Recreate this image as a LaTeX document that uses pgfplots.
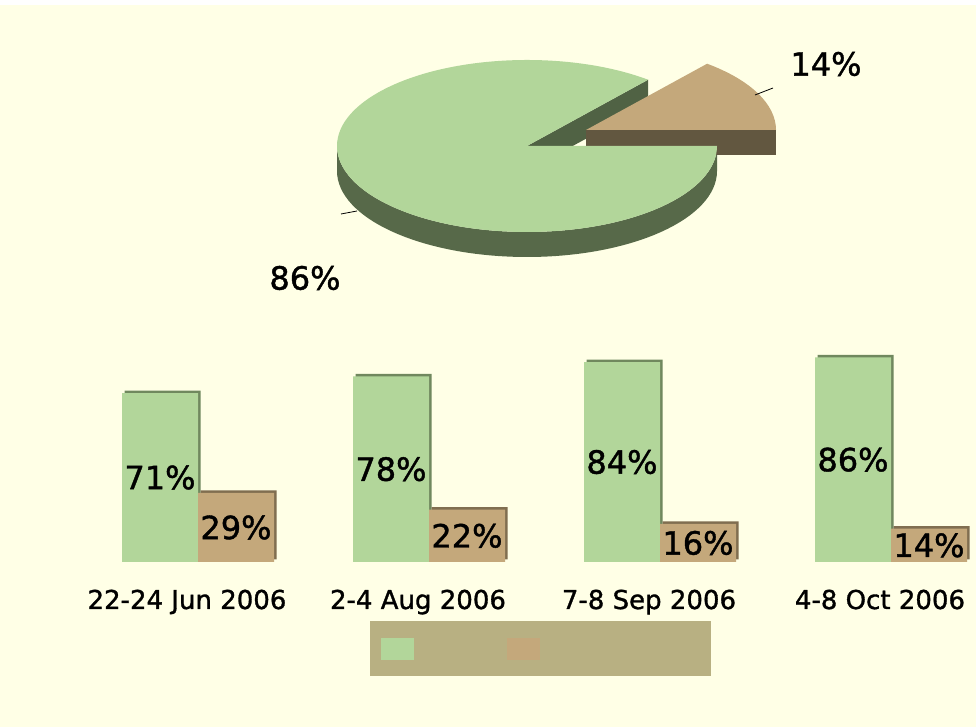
\documentclass[border=0pt]{standalone}
\usepackage{pgfplots}
\pgfplotsset{compat=1.18}
\usepackage{fontspec}
\setmainfont{DejaVu Sans}
\newfontfamily\lab[FakeBold=1.2]{DejaVu Sans}
\definecolor{bg}{RGB}{255,255,230}
\definecolor{gtop}{RGB}{178,214,154}
\definecolor{gside}{RGB}{87,105,73}
\definecolor{gcut}{RGB}{80,98,68}
\definecolor{ttop}{RGB}{196,168,123}
\definecolor{tside}{RGB}{98,87,64}
\definecolor{legbg}{RGB}{184,176,130}
\definecolor{gedge}{RGB}{112,136,94}
\definecolor{tedge}{RGB}{128,110,80}
\newcommand{\bigf}{\lab\fontsize{32}{38}\selectfont}
\begin{document}
\begin{tikzpicture}[x=1pt,y=1pt]
\fill[white] (0,0) rectangle (976,727);
\fill[bg] (0,0) rectangle (976,722);
\useasboundingbox (0,0) rectangle (976,727);
% ---------- pie (values 86 / 14) ----------
\pgfmathsetmacro{\tanang}{14*3.6}
\begin{axis}[at={(0pt,0pt)}, anchor=south west, scale only axis,
  width=976pt, height=727pt, xmin=0, xmax=976, ymin=0, ymax=727, hide axis]
  % green outer side
  \fill[gside] (axis cs:337,581) arc[start angle=180,end angle=360,x radius=190,y radius=86]
     -- (axis cs:717,556) arc[start angle=360,end angle=180,x radius=190,y radius=86] -- cycle;
  % green cut face
  \fill[gcut] (axis cs:527,581) -- ++(\tanang:190 and 86) -- ++(0,-25) -- (axis cs:527,556) -- cycle;
  % tan slice (exploded)
  \fill[tside] (axis cs:586,597) -- (axis cs:776,597) -- (axis cs:776,572) -- (axis cs:586,572) -- cycle;
  \fill[ttop] (axis cs:586,597) -- (axis cs:776,597)
     arc[start angle=0,end angle=\tanang,x radius=190,y radius=86] -- cycle;
  % green top
  \fill[gtop] (axis cs:527,581) -- ++(\tanang:190 and 86)
     arc[start angle=\tanang,end angle=360,x radius=190,y radius=86] -- cycle;
  % leader lines and labels
  \draw[black, line width=0.8pt] (axis cs:341,513) -- (axis cs:357,516);
  \draw[black, line width=0.8pt] (axis cs:755,632) -- (axis cs:773,639);
  \node[font=\bigf] at (axis cs:826,663) {14\%};
  \node[font=\bigf] at (axis cs:305,449) {86\%};
\end{axis}
% ---------- bars ----------
\begin{axis}[at={(82.5pt,165pt)}, anchor=south west, scale only axis,
  width=893.5pt, height=238pt, xmin=-0.5, xmax=3.368, ymin=0, ymax=100,
  axis line style={draw=none}, ytick=\empty, xtick={0,1,2,3},
  xticklabels={22-24 Jun 2006, 2-4 Aug 2006, 7-8 Sep 2006, 4-8 Oct 2006},
  major tick length=0pt, clip=false,
  xticklabel style={font=\lab\fontsize{26}{31}\selectfont, anchor=base, inner sep=0pt, yshift=-47pt, xshift=-11pt},
  legend style={at={(0.3218,-0.2479)}, anchor=north west, fill=legbg, draw=none,
     inner xsep=11pt, inner ysep=16.5pt, nodes={inner sep=0pt}, column sep=0pt, row sep=0pt},
  legend columns=2]
  \addplot[ybar, bar width=76pt, bar shift=-35.5pt, fill=gedge, draw=none, yshift=2.5pt, forget plot]
     coordinates {(0,71)(1,78)(2,84)(3,86)};
  \addplot[ybar, bar width=76pt, bar shift=-38pt, fill=gtop, draw=none,
     legend image code/.code={\fill[gtop] (0pt,-11pt) rectangle (33pt,11pt);}]
     coordinates {(0,71)(1,78)(2,84)(3,86)};
  \addplot[ybar, bar width=76pt, bar shift=40.5pt, fill=tedge, draw=none, yshift=2.5pt, forget plot]
     coordinates {(0,29)(1,22)(2,16)(3,14)};
  \addplot[ybar, bar width=76pt, bar shift=38pt, fill=ttop, draw=none,
     legend image code/.code={\fill[ttop] (0pt,-11pt) rectangle (33pt,11pt);}]
     coordinates {(0,29)(1,22)(2,16)(3,14)};
  \legend{\hspace*{93pt}, \hspace*{160pt}}
  \node[font=\bigf, xshift=-38pt] at (axis cs:0,35.5) {71\%};
  \node[font=\bigf, xshift=-38pt] at (axis cs:1,39) {78\%};
  \node[font=\bigf, xshift=-38pt] at (axis cs:2,42) {84\%};
  \node[font=\bigf, xshift=-38pt] at (axis cs:3,43) {86\%};
  \node[font=\bigf, xshift=38pt] at (axis cs:0,14.5) {29\%};
  \node[font=\bigf, xshift=38pt] at (axis cs:1,11) {22\%};
  \node[font=\bigf, xshift=38pt] at (axis cs:2,8) {16\%};
  \node[font=\bigf, xshift=38pt] at (axis cs:3,7) {14\%};
\end{axis}
\end{tikzpicture}
\end{document}
